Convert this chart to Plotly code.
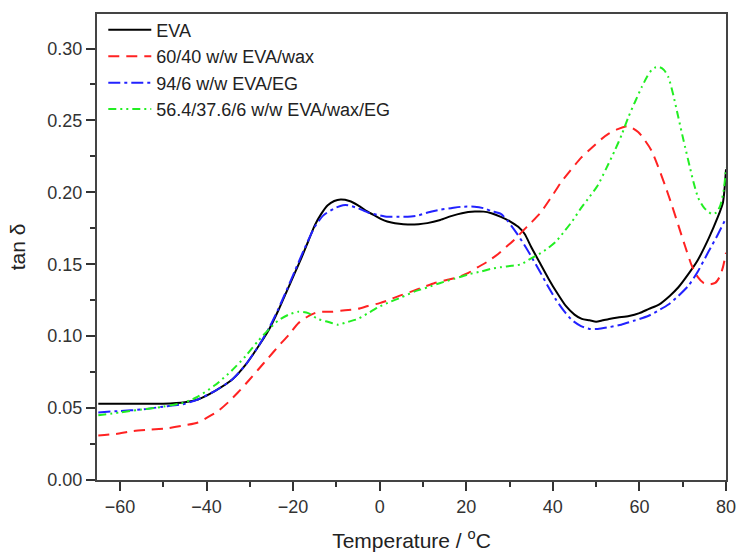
import plotly.graph_objects as go

# tan delta vs temperature for EVA blends
eva_T = [-65, -60, -55, -50, -45, -42, -38, -34, -31, -28, -25.5, -23.4, -21.5, -19.6, -18, -16.5, -15, -13.5, -12, -10.5, -9, -7, -5, -3, -1.2, 1, 2.7, 4.5, 6.5, 9, 11, 14, 16.5, 19, 22, 24, 25.8, 28, 30, 32, 33.5, 35, 37, 39, 41, 43, 45, 46.7, 48.5, 50, 51.5, 53, 55, 57.6, 60, 62.2, 64.5, 67, 69, 71.5, 73.5, 76, 78, 79.3, 80]
eva_v = [0.053, 0.053, 0.053, 0.053, 0.054, 0.056, 0.062, 0.070, 0.080, 0.093, 0.105, 0.118, 0.131, 0.144, 0.155, 0.166, 0.177, 0.185, 0.191, 0.194, 0.195, 0.194, 0.191, 0.187, 0.184, 0.1805, 0.179, 0.1781, 0.1777, 0.1779, 0.1786, 0.1808, 0.1835, 0.1855, 0.1866, 0.1866, 0.1855, 0.183, 0.180, 0.176, 0.171, 0.162, 0.151, 0.140, 0.130, 0.121, 0.115, 0.112, 0.111, 0.110, 0.111, 0.112, 0.113, 0.114, 0.116, 0.119, 0.122, 0.128, 0.134, 0.144, 0.153, 0.168, 0.182, 0.193, 0.216]

wax_T = [-65, -61, -57, -53, -49, -45, -42, -39.5, -37.3, -35, -32.7, -30.3, -28, -25.7, -23.4, -21, -18.8, -17, -15, -13.5, -11, -8, -5, -2.7, 0, 2, 4.5, 7.3, 10, 12.7, 15.5, 18.1, 20.5, 22.7, 25, 27.3, 29.2, 31.1, 33, 35, 37.2, 39.5, 41.9, 44, 46.5, 49, 51.2, 53, 55, 57.4, 59.7, 61.3, 62.8, 64.3, 65.9, 67.5, 69, 70.5, 72.1, 73.5, 74.8, 76, 77.5, 78.5, 79.3, 80]
wax_v = [0.031, 0.032, 0.034, 0.035, 0.036, 0.038, 0.040, 0.044, 0.048, 0.054, 0.061, 0.069, 0.077, 0.085, 0.093, 0.101, 0.109, 0.113, 0.116, 0.117, 0.117, 0.118, 0.119, 0.121, 0.123, 0.125, 0.128, 0.131, 0.134, 0.137, 0.139, 0.141, 0.144, 0.148, 0.152, 0.157, 0.162, 0.167, 0.173, 0.179, 0.186, 0.196, 0.207, 0.215, 0.224, 0.231, 0.237, 0.241, 0.244, 0.246, 0.242, 0.236, 0.229, 0.218, 0.205, 0.191, 0.177, 0.163, 0.149, 0.141, 0.137, 0.136, 0.137, 0.141, 0.148, 0.158]

eg_T = [-65, -60, -55, -50, -45, -42, -38, -34, -31, -28, -25.5, -23.4, -21.5, -19.5, -17.5, -15, -13, -10.4, -8.5, -7.3, -5, -2.7, 0, 1.9, 4, 6.5, 9, 11.1, 14, 16.5, 19, 21.9, 24, 25.8, 28, 29.6, 31.8, 33.5, 34.9, 37, 38.8, 40.8, 42.7, 44.5, 46.5, 48.5, 50.4, 52.5, 55.8, 59, 62, 64.5, 66.7, 69, 71.3, 73.5, 76, 78, 80]
eg_v = [0.047, 0.048, 0.049, 0.051, 0.053, 0.056, 0.062, 0.070, 0.080, 0.093, 0.106, 0.119, 0.132, 0.146, 0.160, 0.176, 0.184, 0.189, 0.191, 0.191, 0.189, 0.186, 0.184, 0.183, 0.183, 0.183, 0.184, 0.186, 0.188, 0.189, 0.190, 0.190, 0.189, 0.187, 0.185, 0.180, 0.171, 0.163, 0.156, 0.145, 0.135, 0.125, 0.117, 0.111, 0.107, 0.105, 0.105, 0.106, 0.108, 0.111, 0.114, 0.118, 0.122, 0.128, 0.135, 0.145, 0.159, 0.170, 0.182]

mix_T = [-65, -60, -55, -50, -45, -42, -38, -34.2, -31, -28, -25.5, -23.4, -21, -18.8, -16.5, -14.3, -12, -9.6, -7.3, -5, -2.7, -0.4, 2.5, 5, 8, 11.1, 14, 17.3, 20.5, 23.5, 26, 28.1, 30.5, 32.7, 34.9, 36.8, 38.8, 40.8, 42.7, 44.5, 46.5, 48.5, 50.4, 52.4, 54.3, 55.9, 57.4, 59, 60.5, 61.7, 62.8, 63.8, 64.7, 65.7, 66.7, 67.8, 69, 70.2, 71.3, 72.5, 73.6, 75, 76.7, 77.8, 78.7, 79.5, 80]
mix_v = [0.045, 0.047, 0.049, 0.051, 0.054, 0.058, 0.066, 0.076, 0.086, 0.097, 0.105, 0.111, 0.115, 0.117, 0.116, 0.112, 0.110, 0.108, 0.110, 0.112, 0.116, 0.120, 0.124, 0.127, 0.131, 0.134, 0.137, 0.140, 0.143, 0.145, 0.147, 0.148, 0.149, 0.150, 0.154, 0.157, 0.161, 0.166, 0.173, 0.180, 0.189, 0.197, 0.205, 0.217, 0.229, 0.240, 0.252, 0.263, 0.273, 0.280, 0.285, 0.287, 0.287, 0.285, 0.280, 0.268, 0.252, 0.236, 0.222, 0.207, 0.196, 0.189, 0.185, 0.186, 0.191, 0.202, 0.217]

names = ["EVA", "60/40 w/w EVA/wax", "94/6 w/w EVA/EG", "56.4/37.6/6 w/w EVA/wax/EG"]
colors = ["#000000", "#ff2222", "#2222ff", "#22ee22"]
dashes = ["solid", "11px,7px", "12px,4px,3px,4px", "8px,4px,2px,4px,2px,4px"]

series = [(eva_T, eva_v), (wax_T, wax_v), (eg_T, eg_v), (mix_T, mix_v)]

fig = go.Figure()
for (t, v), name, col, dash in zip(series, names, colors, dashes):
    fig.add_trace(go.Scatter(
        x=t, y=v, mode="lines", name=name,
        line=dict(color=col, width=2, dash=dash, shape="spline", smoothing=0.6),
    ))

font_family = "Liberation Sans, Arial, sans-serif"
axis_common = dict(
    showgrid=False, zeroline=False, automargin=False, ticklabeloverflow="allow",
    showline=True, linecolor="#444444", linewidth=2, mirror=True,
    ticks="outside", ticklen=9, tickwidth=1.5, tickcolor="#333333",
    tickfont=dict(family=font_family, size=18, color="#333333"),
)

fig.update_layout(
    template="none",
    width=736, height=554,
    margin=dict(l=97, r=10, t=14, b=74),
    paper_bgcolor="white", plot_bgcolor="white",
    font=dict(family=font_family, color="#222222"),
    xaxis=dict(
        range=[-65.3, 80], tickmode="linear", tick0=-60, dtick=20,
        minor=dict(ticks="outside", ticklen=5, dtick=10, tick0=-60, tickcolor="#333333", tickwidth=1.5),
        title=dict(text="Temperature / <sup>o</sup>C", font=dict(size=21, color="#222222"), standoff=18),
        **axis_common,
    ),
    yaxis=dict(
        range=[0, 0.324], tickmode="linear", tick0=0, dtick=0.05, tickformat=".2f",
        minor=dict(ticks="outside", ticklen=5, dtick=0.025, tick0=0, tickcolor="#333333", tickwidth=1.5),
        title=dict(text="tan δ", font=dict(size=21, color="#222222"), standoff=16),
        **axis_common,
    ),
    legend=dict(
        x=0.01, y=1.005, xanchor="left", yanchor="top",
        bgcolor="rgba(0,0,0,0)", borderwidth=0,
        font=dict(family=font_family, size=18, color="#222222"),
        tracegroupgap=0, itemwidth=43,
    ),
    showlegend=True,
)

fig.write_html("out.html")
